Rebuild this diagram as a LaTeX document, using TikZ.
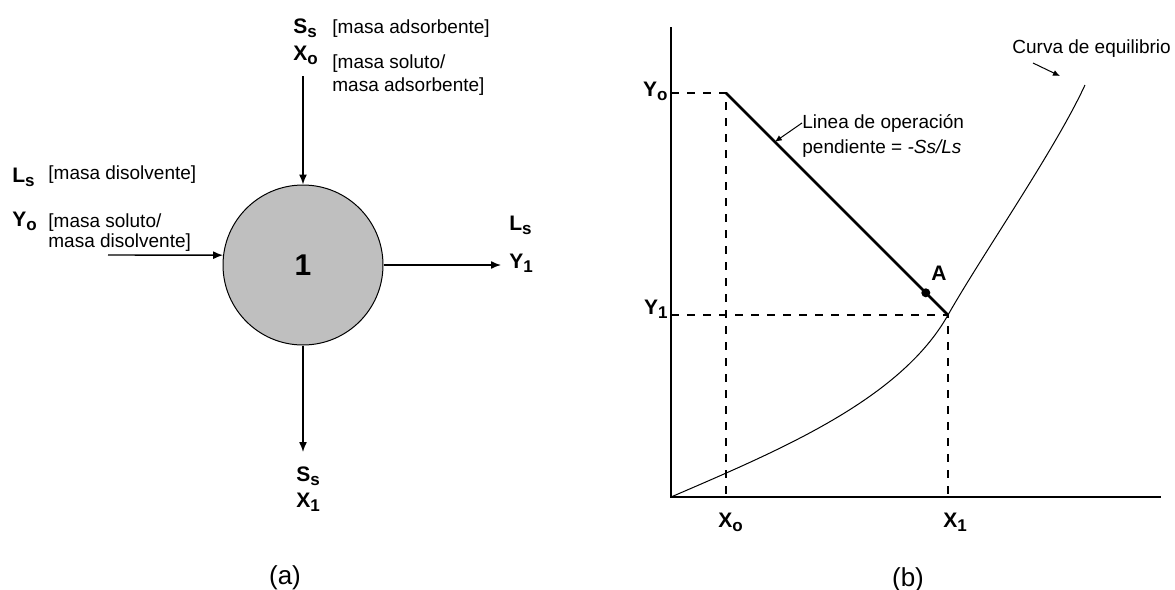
\documentclass[tikz,border=0pt]{standalone}
\usepackage{fontspec}
\setmainfont{Liberation Sans}
\usetikzlibrary{arrows.meta, calc, positioning}
\newcommand{\subidx}[1]{\raisebox{-2pt}{\fontsize{8.5}{9}\selectfont #1}}

\begin{document}
\begin{tikzpicture}[x=0.5pt, y=-0.5pt,
    flow/.style={-{Latex[length=5pt, width=4pt]}, line width=0.7pt},
    leader/.style={-{Latex[length=3.5pt, width=3pt]}, line width=0.5pt},
    varlbl/.style={font=\fontsize{10.5}{11}\selectfont\bfseries, inner sep=0pt, anchor=base west},
    desc/.style={font=\fontsize{9.5}{10}\selectfont, inner sep=0pt, anchor=base west},
    guide/.style={dashed, dash pattern=on 4pt off 4pt, line width=0.7pt},
    caption/.style={font=\fontsize{13}{14}\selectfont, inner sep=0pt}]
    \useasboundingbox (0,0) rectangle (1175,590);

    % 1. Etapa de contacto (a)
    \node[circle, draw, line width=0.5pt, fill=black!25, minimum size=80pt, inner sep=0pt,
          font=\fontsize{15}{16}\selectfont\bfseries] (tank) at (303,265) {1};

    % Entrada del adsorbente (arriba)
    \coordinate (inS) at (303,76);
    \draw[flow] (inS) -- (tank.north);
    \node[varlbl] (Ss0) at (293,33) {S\subidx{s}};
    \node[desc] (dSs0) at (332,33) {[masa adsorbente]};
    \node[varlbl] (X0) at (293,60) {X\subidx{o}};
    \node[desc] (dX0a) at (332,68) {[masa soluto/};
    \node[desc] (dX0b) at (332,91) {masa adsorbente]};

    % Entrada del disolvente (izquierda)
    \coordinate (inL) at (108,255);
    \draw[flow] (inL) -- (tank.173);
    \node[varlbl] (Ls0) at (12,182) {L\subidx{s}};
    \node[desc] (dLs0) at (48,179) {[masa disolvente]};
    \node[varlbl] (Y0) at (12,226) {Y\subidx{o}};
    \node[desc] (dY0a) at (48,227) {[masa soluto/};
    \node[desc] (dY0b) at (48,247) {masa disolvente]};

    % Salidas
    \coordinate (outL) at (501,265);
    \draw[flow] (tank.east) -- (outL);
    \node[varlbl] (Ls1) at (509,230) {L\subidx{s}};
    \node[varlbl] (Y1) at (509,268) {Y\subidx{1}};

    \coordinate (outS) at (303,452);
    \draw[flow] (tank.south) -- (outS);
    \node[varlbl] (Ss1) at (296,481) {S\subidx{s}};
    \node[varlbl] (X1) at (296,507) {X\subidx{1}};

    \node[caption] (capa) at (285,578) {(a)};

    % 2. Diagrama de operacion (b)
    \coordinate (O) at (671,497);
    \coordinate (ytop) at (671,27);
    \coordinate (xend) at (1161,497);
    \draw[line width=1pt] (ytop) -- (O) -- (xend);

    \coordinate (P0) at (726,93);   % (Xo, Yo)
    \coordinate (P1) at (948,315);  % (X1, Y1)
    \foreach \p in {P0, P1}
        \draw[guide] (O |- \p) -- (\p) -- (O -| \p);

    % Linea de operacion
    \draw[line width=1.3pt] (P0) -- (P1);
    \node[circle, fill, inner sep=0pt, minimum size=4.5pt] (ptA) at ($(P0)!0.9!(P1)$) {};
    \node[varlbl] (lblA) at (931,280) {A};

    % Curva de equilibrio
    \coordinate (Ctop) at (1085,85);
    \draw[line width=0.5pt] (O) .. controls (780,450) and (900,400) .. (P1)
        .. controls (982,255) and (1055,150) .. (Ctop);

    % Ejes: etiquetas
    \node[varlbl, anchor=base east] (lY0) at (668,96) {Y\subidx{o}};
    \node[varlbl, anchor=base east] (lY1) at (668,314) {Y\subidx{1}};
    \node[varlbl] (lX0) at (718,527) {X\subidx{o}};
    \node[varlbl] (lX1) at (943,527) {X\subidx{1}};

    % Anotaciones
    \node[desc] (lin1) at (802,128) {Linea de operación};
    \node[desc] (lin2) at (802,153) {pendiente = \textit{-Ss/Ls}};
    \draw[leader] (lin1.west) -- ($(P0)!0.22!(P1)$);

    \node[desc] (eq) at (1012,53) {Curva de equilibrio};
    \coordinate (eqa) at (1033,63);
    \coordinate (eqb) at (1060,76);
    \draw[leader] (eqa) -- (eqb);

    \node[caption] (capb) at (908,580) {(b)};
\end{tikzpicture}
\end{document}
